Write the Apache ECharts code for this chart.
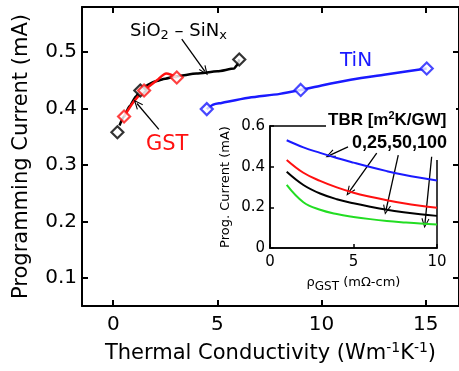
<!DOCTYPE html>
<html>
<head>
<meta charset="utf-8">
<script src="https://cdn.jsdelivr.net/npm/echarts@6/dist/echarts.min.js"></script>
<style>
  html, body { margin: 0; padding: 0; background: #fff; }
  #chart { width: 459px; height: 371px; }
</style>
</head>
<body>
<div id="chart"></div>
<script>
// main plot: programming current vs thermal conductivity
const xTicks = [0, 5, 10, 15]
const yTicks = [0.1, 0.2, 0.3, 0.4, 0.5]

const sioPoints = [[0.2, 0.358], [1.3, 0.432], [6.05, 0.487]]
const sioFit = [[0.3, 0.37], [0.5, 0.385], [0.8, 0.405], [1.1, 0.422], [1.3, 0.432], [1.6, 0.441],
  [2.0, 0.448], [2.5, 0.453], [3.0, 0.457], [4.0, 0.462], [5.0, 0.466], [5.8, 0.471], [5.95, 0.477], [6.05, 0.487]]

const gstPoints = [[0.52, 0.386], [1.48, 0.432], [3.05, 0.455]]
const gstLine = [[0.52, 0.386], [1.0, 0.413], [1.48, 0.432], [2.1, 0.45], [2.55, 0.462], [3.05, 0.455]]

const tinPoints = [[4.49, 0.399], [9.0, 0.433], [15.05, 0.471]]
const tinLine = [[4.49, 0.399], [4.8, 0.407], [5.2, 0.41], [6.5, 0.419], [8.0, 0.426], [9.0, 0.433],
  [10.0, 0.441], [11.4, 0.451], [13.0, 0.46], [15.05, 0.471]]

// inset: programming current vs GST resistivity, one curve per TBR
const rho = [1, 2, 3, 4, 5, 6, 7, 8, 9, 10]
const tbr0 = [0.53, 0.495, 0.468, 0.443, 0.42, 0.398, 0.378, 0.36, 0.345, 0.332]
const tbr25 = [0.433, 0.37, 0.33, 0.298, 0.272, 0.252, 0.235, 0.22, 0.208, 0.198]
const tbr50 = [0.375, 0.31, 0.268, 0.24, 0.22, 0.203, 0.188, 0.176, 0.166, 0.158]
const tbr100 = [0.31, 0.225, 0.188, 0.167, 0.153, 0.142, 0.133, 0.126, 0.12, 0.116]

// arrows [from, to]
const mainArrows = [
  [[3.29, 0.523], [4.4, 0.466]],
  [[2.19, 0.363], [1.14, 0.409]]
]
const insetArrows = [
  [[4.67, 0.497], [3.6, 0.457]],
  [[6.39, 0.466], [4.75, 0.277]],
  [[7.68, 0.457], [6.95, 0.187]],
  [[9.68, 0.449], [9.28, 0.121]]
]

const FONT = 'DejaVu Sans'
const RED = '#ff1010'
const BLUE = '#1a1aff'
const GREEN = '#22dd22'
const arrowHead = 'path://M5,0 L10,11 L8.8,11.6 L5,3.2 L1.2,11.6 L0,11 Z'

const zip = (xs, ys) => xs.map((x, i) => [x, ys[i]])

const arrowLines = (arrows) => ({
  silent: true,
  symbol: ['none', arrowHead],
  symbolSize: [8, 10],
  label: { show: false },
  lineStyle: { color: '#000', width: 1.3, type: 'solid' },
  emphasis: { disabled: true },
  animation: false,
  data: arrows.map(a => [{ coord: a[0] }, { coord: a[1] }])
})

const chart = echarts.init(document.getElementById('chart'))

const mainAxisX = (pos, showLabel) => ({
  type: 'value', gridIndex: 0, position: pos, min: -1.5, max: 16.6,
  axisLine: { onZero: false, lineStyle: { color: '#000', width: 2 } },
  axisTick: { inside: true, length: 6, customValues: xTicks, lineStyle: { color: '#000', width: 2 } },
  axisLabel: { show: showLabel, customValues: xTicks, fontSize: 20, fontFamily: FONT, color: '#000', margin: 9 },
  splitLine: { show: false }
})
const mainAxisY = (pos, showLabel) => ({
  type: 'value', gridIndex: 0, position: pos, min: 0.05, max: 0.58,
  axisLine: { onZero: false, lineStyle: { color: '#000', width: 2 } },
  axisTick: { inside: true, length: 6, customValues: yTicks, lineStyle: { color: '#000', width: 2 } },
  axisLabel: { show: showLabel, customValues: yTicks, fontSize: 20, fontFamily: FONT, color: '#000', margin: 5,
    formatter: v => v.toFixed(1) },
  splitLine: { show: false }
})

const option = {
  animation: false,
  backgroundColor: '#fff',
  grid: [
    { left: 82, top: 7, right: -3, bottom: 65 },
    { left: 270, top: 126, width: 167, height: 122, show: true, backgroundColor: '#fff',
      borderColor: '#000', borderWidth: 1.5, z: 3 }
  ],
  xAxis: [
    Object.assign(mainAxisX('bottom', true), {
      name: '{a|Thermal Conductivity (Wm}{s|-1}{a|K}{s|-1}{a|)}',
      nameLocation: 'middle', nameGap: 35,
      nameTextStyle: {
        rich: {
          a: { fontSize: 21, fontFamily: FONT, color: '#000' },
          s: { fontSize: 14, fontFamily: FONT, color: '#000', padding: [0, 0, 11, 0] }
        }
      }
    }),
    mainAxisX('top', false),
    {
      type: 'value', gridIndex: 1, min: 0, max: 10, interval: 5, z: 4,
      axisLine: { onZero: false, lineStyle: { color: '#000', width: 1.5 } },
      axisTick: { inside: true, length: 4, lineStyle: { color: '#000', width: 1.5 } },
      axisLabel: { fontSize: 15, fontFamily: FONT, color: '#000', margin: 7 },
      splitLine: { show: false },
      name: '{a|ρ}{s|GST}{a| (mΩ-cm)}',
      nameLocation: 'middle', nameGap: 24,
      nameTextStyle: {
        rich: {
          a: { fontSize: 13, fontFamily: FONT, color: '#000' },
          s: { fontSize: 12, fontFamily: FONT, color: '#000', padding: [9, 0, 0, 0] }
        }
      }
    }
  ],
  yAxis: [
    Object.assign(mainAxisY('left', true), {
      name: 'Programming Current (mA)',
      nameLocation: 'middle', nameGap: 50,
      nameTextStyle: { fontSize: 21, fontFamily: FONT, color: '#000' }
    }),
    mainAxisY('right', false),
    {
      type: 'value', gridIndex: 1, min: 0, max: 0.6, interval: 0.2, z: 4,
      axisLine: { onZero: false, lineStyle: { color: '#000', width: 1.5 } },
      axisTick: { inside: true, length: 4, lineStyle: { color: '#000', width: 1.5 } },
      axisLabel: { fontSize: 15, fontFamily: FONT, color: '#000', margin: 5,
        formatter: v => (v === 0 ? '0' : v.toFixed(1)) },
      splitLine: { show: false },
      name: 'Prog. Current (mA)',
      nameLocation: 'middle', nameGap: 38,
      nameTextStyle: { fontSize: 13, fontFamily: FONT, color: '#000' }
    }
  ],
  series: [
    { name: 'SiO2-SiNx fit', type: 'line', xAxisIndex: 0, yAxisIndex: 0, data: sioFit,
      smooth: 0.2, smoothMonotone: 'x', showSymbol: false, lineStyle: { color: '#000', width: 2.5 },
      markLine: arrowLines(mainArrows) },
    { name: 'GST line', type: 'line', xAxisIndex: 0, yAxisIndex: 0, data: gstLine,
      smooth: 0.3, showSymbol: false, lineStyle: { color: RED, width: 2.5 } },
    { name: 'TiN line', type: 'line', xAxisIndex: 0, yAxisIndex: 0, data: tinLine,
      smooth: 0.3, showSymbol: false, lineStyle: { color: BLUE, width: 2.5 } },
    { name: 'SiO2-SiNx', type: 'scatter', xAxisIndex: 0, yAxisIndex: 0, data: sioPoints, z: 5,
      symbol: 'diamond', symbolSize: [12, 12], itemStyle: { color: '#fff', borderColor: '#000', borderWidth: 2.2 } },
    { name: 'GST', type: 'scatter', xAxisIndex: 0, yAxisIndex: 0, data: gstPoints, z: 5,
      symbol: 'diamond', symbolSize: [12, 12], itemStyle: { color: '#fff', borderColor: RED, borderWidth: 2.2 } },
    { name: 'TiN', type: 'scatter', xAxisIndex: 0, yAxisIndex: 0, data: tinPoints, z: 5,
      symbol: 'diamond', symbolSize: [12, 12], itemStyle: { color: '#fff', borderColor: BLUE, borderWidth: 2.2 } },

    { name: 'TBR 0', type: 'line', xAxisIndex: 2, yAxisIndex: 2, data: zip(rho, tbr0), z: 6,
      smooth: 0.4, showSymbol: false, lineStyle: { color: BLUE, width: 2 } },
    { name: 'TBR 25', type: 'line', xAxisIndex: 2, yAxisIndex: 2, data: zip(rho, tbr25), z: 6,
      smooth: 0.4, showSymbol: false, lineStyle: { color: RED, width: 2 } },
    { name: 'TBR 50', type: 'line', xAxisIndex: 2, yAxisIndex: 2, data: zip(rho, tbr50), z: 6,
      smooth: 0.4, showSymbol: false, lineStyle: { color: '#000', width: 2 } },
    { name: 'TBR 100', type: 'line', xAxisIndex: 2, yAxisIndex: 2, data: zip(rho, tbr100), z: 6,
      smooth: 0.4, showSymbol: false, lineStyle: { color: GREEN, width: 2 },
      markLine: arrowLines(insetArrows) }
  ],
  graphic: [
    // white box behind the TBR legend text, covers the inset frame corner
    { type: 'rect', z: 5, shape: { x: 326, y: 108, width: 130, height: 52 }, style: { fill: '#fff' } },
    { type: 'text', z: 10, left: 130, top: 22,
      style: { text: '{a|SiO}{s|2}{a| – SiN}{s|x}',
        rich: {
          a: { fontSize: 18, fontFamily: FONT, fill: '#000' },
          s: { fontSize: 13, fontFamily: FONT, fill: '#000', padding: [9, 0, 0, 0] }
        } } },
    { type: 'text', z: 10, left: 146, top: 134,
      style: { text: 'GST', fontSize: 21, fontFamily: FONT, fill: RED } },
    { type: 'text', z: 10, left: 340, top: 51,
      style: { text: 'TiN', fontSize: 20, fontFamily: FONT, fill: BLUE } },
    { type: 'text', z: 10, left: 328, top: 110,
      style: { text: '{b|TBR [m}{p|2}{b|K/GW]}',
        rich: {
          b: { fontSize: 17, fontWeight: 'bold', fontFamily: 'Liberation Sans', fill: '#000' },
          p: { fontSize: 11, fontWeight: 'bold', fontFamily: 'Liberation Sans', fill: '#000', padding: [0, 0, 9, 0] }
        } } },
    { type: 'text', z: 10, left: 352, top: 134,
      style: { text: '0,25,50,100', fontSize: 18, fontWeight: 'bold', fontFamily: 'Liberation Sans', fill: '#000' } }
  ]
}

chart.setOption(option)
</script>
</body>
</html>
